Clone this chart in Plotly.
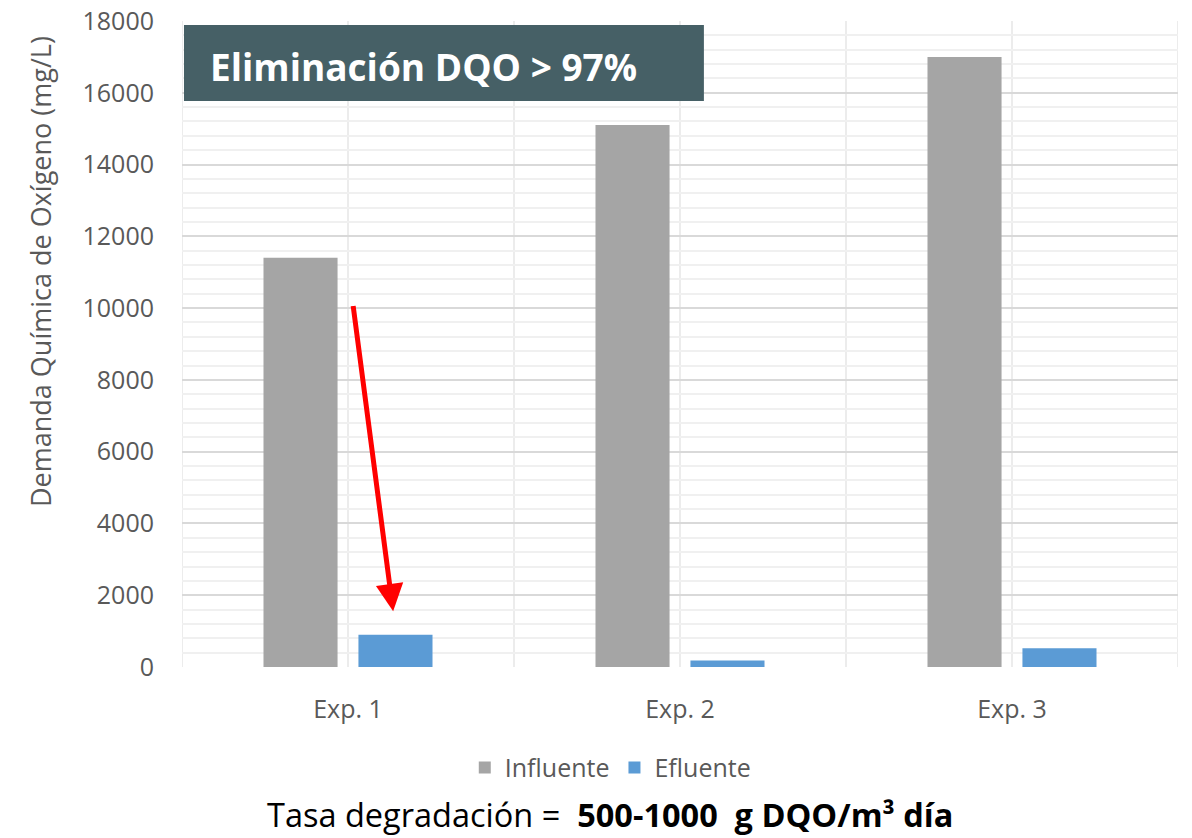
import plotly.graph_objects as go

# Experiment labels and COD values (mg/L)
categories = ["Exp. 1", "Exp. 2", "Exp. 3"]
influente = [11400, 15100, 17000]
efluente = [900, 180, 520]
y_ticks = [0, 2000, 4000, 6000, 8000, 10000, 12000, 14000, 16000, 18000]

GRAY = "#A5A5A5"
BLUE = "#5B9BD5"
TXT = "#595959"

fig = go.Figure()
fig.add_trace(go.Bar(name="Influente", x=categories, y=influente,
                     marker=dict(color=GRAY, line=dict(width=0))))
fig.add_trace(go.Bar(name="Efluente", x=categories, y=efluente,
                     marker=dict(color=BLUE, line=dict(width=0))))

# vertical gridlines at category boundaries and category centres
shapes = []
n = len(categories)
for k in range(2 * n + 1):
    xv = -0.5 + 0.5 * k
    shapes.append(dict(type="line", xref="x", yref="paper", x0=xv, x1=xv,
                       y0=0, y1=1, layer="below",
                       line=dict(color="#E6E6E6", width=1.5)))

# header box
shapes.append(dict(type="rect", xref="paper", yref="paper",
                   x0=0.002, x1=0.524, y0=0.876, y1=0.994,
                   fillcolor="#466066", line=dict(width=0), layer="above"))

fig.update_layout(
    width=1192, height=838,
    margin=dict(l=182, r=14, t=21, b=171, autoexpand=False),
    paper_bgcolor="white", plot_bgcolor="white",
    barmode="group", bargap=0.428, bargroupgap=0.22,
    font=dict(family="Open Sans", color=TXT),
    shapes=shapes,
    showlegend=True,
    legend=dict(orientation="h", x=0.43, y=-0.156, xanchor="center", yanchor="middle",
                font=dict(family="Open Sans", size=25, color=TXT),
                itemwidth=30, traceorder="normal"),
    xaxis=dict(type="category", showgrid=False, zeroline=False, showline=False,
               ticks="outside", ticklen=20, tickcolor="rgba(0,0,0,0)",
               tickfont=dict(family="Open Sans", size=25, color=TXT),
               range=[-0.5, 2.5], automargin=False),
    yaxis=dict(range=[0, 18000], tickvals=y_ticks, ticktext=[str(v) for v in y_ticks],
               showgrid=True, gridcolor="#D9D9D9", gridwidth=1.5,
               zeroline=False, showline=False,
               ticks="outside", ticklen=22, tickcolor="rgba(0,0,0,0)",
               tickfont=dict(family="Open Sans", size=25, color=TXT),
               minor=dict(dtick=400, showgrid=True, gridcolor="#F0F0F0", gridwidth=1.5),
               automargin=False),
    annotations=[
        dict(xref="paper", yref="paper", x=-0.1426, y=0.613, xanchor="center", yanchor="middle",
             text="Demanda Química de Oxígeno (mg/L)", textangle=-90, showarrow=False,
             font=dict(family="Open Sans", size=27, color=TXT)),
        dict(xref="paper", yref="paper", x=0.026, y=0.929, xanchor="left", yanchor="middle",
             text="<b>Eliminación DQO > 97%</b>", showarrow=False,
             font=dict(family="Open Sans", size=37, color="white")),
        dict(xref="paper", yref="paper", x=0.43, y=-0.229, xanchor="center", yanchor="middle",
             text="Tasa degradación =  <b>500-1000  g DQO/m³ día</b>", showarrow=False,
             font=dict(family="Open Sans", size=32.5, color="black")),
        dict(xref="x", yref="y", axref="x", ayref="y",
             x=0.136, y=1550, ax=0.015, ay=10100,
             text="", showarrow=True, arrowhead=2, arrowsize=1.1,
             arrowwidth=5, arrowcolor="#FF0000"),
    ],
)

fig.write_html("out.html")
